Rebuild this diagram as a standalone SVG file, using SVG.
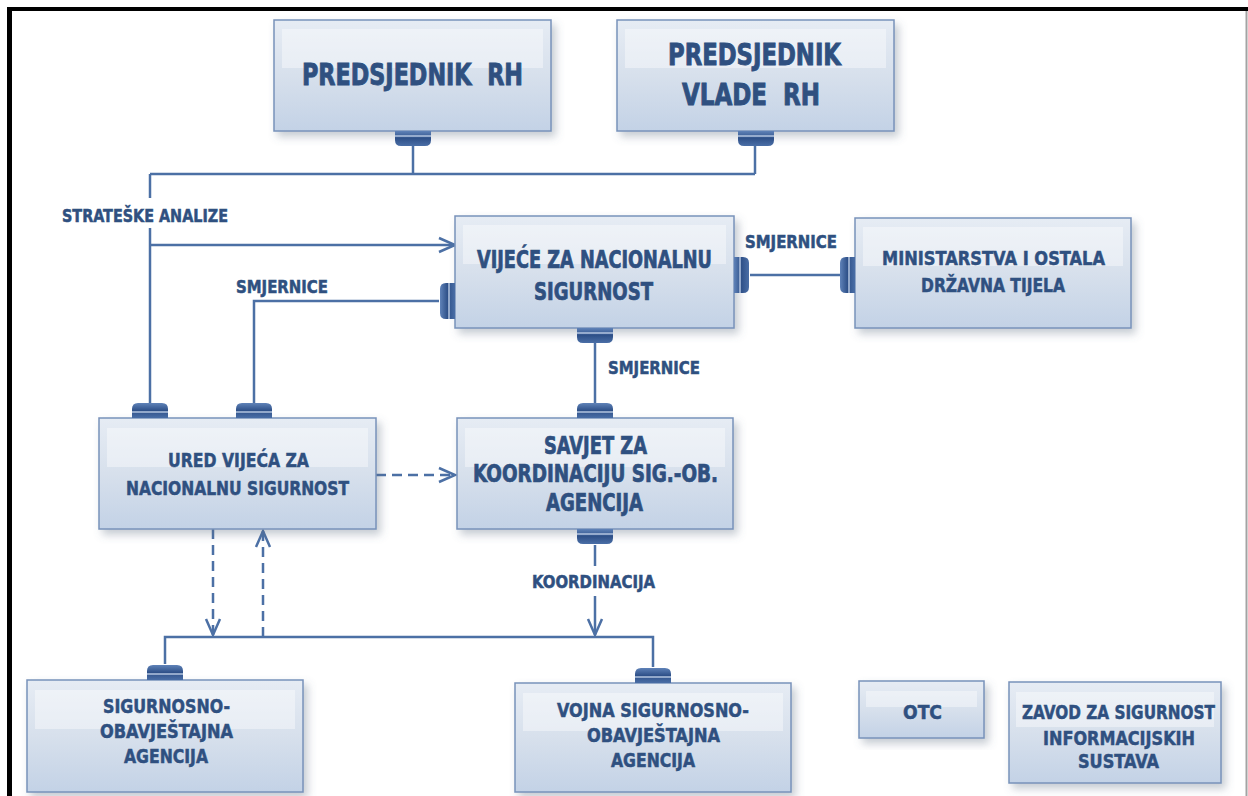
<svg xmlns="http://www.w3.org/2000/svg" width="1248" height="796" viewBox="0 0 1248 796">
<defs>
<style>
.box{fill:url(#boxGrad);stroke:#7892ba;stroke-width:1.5;filter:url(#shadow)}
.band{fill:#ffffff;opacity:0.4}
.t{font-family:"DejaVu Sans Condensed","Liberation Sans Narrow","Liberation Sans",sans-serif;font-weight:bold;fill:#2f5080;stroke:#2f5080;stroke-width:0.5}
.big{font-size:31px;stroke-width:0.9}
.mid{font-size:24px;stroke-width:0.7}
.sm{font-size:20px}
.lbl{font-size:18px}
.c{fill:none;stroke:#4c70a5;stroke-width:2.5}
.d{fill:none;stroke:#4c70a5;stroke-width:2.5;stroke-dasharray:10 6}
.tab{fill:url(#tabGradV)}
.tabs{fill:url(#tabGradH)}
.stripe{stroke:#b3c5df;stroke-width:1.5}
</style>
<linearGradient id="boxGrad" x1="0" y1="0" x2="0" y2="1">
<stop offset="0" stop-color="#e6ecf4"/>
<stop offset="0.5" stop-color="#d7e0ec"/>
<stop offset="1" stop-color="#c3d2e6"/>
</linearGradient>
<linearGradient id="tabGradV" x1="0" y1="0" x2="0" y2="1">
<stop offset="0" stop-color="#5f82b8"/>
<stop offset="0.5" stop-color="#2f5189"/>
<stop offset="1" stop-color="#4a6ea6"/>
</linearGradient>
<linearGradient id="tabGradH" x1="0" y1="0" x2="1" y2="0">
<stop offset="0" stop-color="#5f82b8"/>
<stop offset="0.5" stop-color="#2f5189"/>
<stop offset="1" stop-color="#4a6ea6"/>
</linearGradient>
<filter id="shadow" x="-10%" y="-10%" width="125%" height="130%">
<feDropShadow dx="4" dy="5" stdDeviation="4" flood-color="#5a6a80" flood-opacity="0.35"/>
</filter>
<g id="tabUp">
<path class="tab" d="M-18,0 V-9 Q-18,-15 -12,-15 H12 Q18,-15 18,-9 V0 Z"/>
<line class="stripe" x1="-18" y1="-6" x2="18" y2="-6"/>
</g>
<g id="tabDown">
<path class="tab" d="M-18,0 V9 Q-18,15 -12,15 H12 Q18,15 18,9 V0 Z"/>
<line class="stripe" x1="-18" y1="5" x2="18" y2="5"/>
</g>
<g id="tabRight">
<path class="tabs" d="M0,-18 H9 Q15,-18 15,-12 V12 Q15,18 9,18 H0 Z"/>
<line class="stripe" x1="6" y1="-18" x2="6" y2="18"/>
</g>
<g id="tabLeft">
<path class="tabs" d="M0,-18 H-9 Q-15,-18 -15,-12 V12 Q-15,18 -9,18 H0 Z"/>
<line class="stripe" x1="-6" y1="-18" x2="-6" y2="18"/>
</g>
<marker id="arr" markerUnits="userSpaceOnUse" markerWidth="20" markerHeight="16" refX="16" refY="7" orient="auto" overflow="visible">
<path d="M0,0 L16,7 L0,14" fill="none" stroke="#4c70a5" stroke-width="2.5"/>
</marker>
</defs>

<rect x="0" y="0" width="1248" height="796" fill="#ffffff"/>

<g id="frame">
<rect x="7" y="7" width="1241" height="4" fill="#000000"/>
<rect x="7" y="7" width="5" height="789" fill="#000000"/>
<line x1="1246.5" y1="11" x2="1246.5" y2="796" stroke="#a3a3a3" stroke-width="2"/>
</g>

<g id="connectors">
<path class="c" d="M413,145 V174"/>
<path class="c" d="M755,145 V174"/>
<path class="c" d="M150,174 H755"/>
<path class="c" d="M150,174 V198"/>
<path class="c" d="M150,228 V403"/>
<path class="c" d="M150,245 H455" marker-end="url(#arr)"/>
<path class="c" d="M439,301 H254 V403"/>
<path class="c" d="M750,275 H842"/>
<path class="c" d="M595,342 V404"/>
<path class="d" d="M376,475 H455" marker-end="url(#arr)"/>
<path class="d" d="M213,529 V635" marker-end="url(#arr)"/>
<path class="d" d="M263,637 V531" marker-end="url(#arr)"/>
<path class="c" d="M595,545 V566"/>
<path class="c" d="M595,596 V635" marker-end="url(#arr)"/>
<path class="c" d="M165,664 V637 H653 V667"/>
</g>

<g id="labels">
<text class="t lbl" x="62" y="222" textLength="166" lengthAdjust="spacingAndGlyphs">STRATEŠKE ANALIZE</text>
<text class="t lbl" x="236" y="293" textLength="92" lengthAdjust="spacingAndGlyphs">SMJERNICE</text>
<text class="t lbl" x="745" y="248" textLength="92" lengthAdjust="spacingAndGlyphs">SMJERNICE</text>
<text class="t lbl" x="608" y="374" textLength="92" lengthAdjust="spacingAndGlyphs">SMJERNICE</text>
<text class="t lbl" x="532" y="588" textLength="123" lengthAdjust="spacingAndGlyphs">KOORDINACIJA</text>
</g>

<g id="node-predsjednik-rh">
<rect class="box" x="274" y="20" width="277" height="111"/>
<rect class="band" x="282" y="29" width="261" height="39"/>
<use href="#tabDown" x="413" y="131"/>
<text class="t big" x="302" y="85" textLength="221" lengthAdjust="spacingAndGlyphs" xml:space="preserve">PREDSJEDNIK  RH</text>
</g>

<g id="node-predsjednik-vlade">
<rect class="box" x="617" y="20" width="277" height="111"/>
<rect class="band" x="625" y="29" width="261" height="39"/>
<use href="#tabDown" x="756" y="131"/>
<text class="t big" x="668" y="65" textLength="173" lengthAdjust="spacingAndGlyphs">PREDSJEDNIK</text>
<text class="t big" x="682" y="105" textLength="138" lengthAdjust="spacingAndGlyphs" xml:space="preserve">VLADE  RH</text>
</g>

<g id="node-vijece">
<rect class="box" x="455" y="216" width="279" height="112"/>
<rect class="band" x="463" y="225" width="263" height="39"/>
<use href="#tabLeft" x="455" y="301"/>
<use href="#tabRight" x="734" y="275"/>
<use href="#tabDown" x="595" y="328"/>
<text class="t mid" x="477" y="268" textLength="235" lengthAdjust="spacingAndGlyphs">VIJEĆE ZA NACIONALNU</text>
<text class="t mid" x="534" y="300" textLength="119" lengthAdjust="spacingAndGlyphs">SIGURNOST</text>
</g>

<g id="node-ministarstva">
<rect class="box" x="855" y="218" width="276" height="110"/>
<rect class="band" x="863" y="227" width="260" height="39"/>
<use href="#tabLeft" x="855" y="275"/>
<text class="t sm" x="882" y="265" textLength="223" lengthAdjust="spacingAndGlyphs">MINISTARSTVA I OSTALA</text>
<text class="t sm" x="921" y="292" textLength="144" lengthAdjust="spacingAndGlyphs">DRŽAVNA TIJELA</text>
</g>

<g id="node-ured">
<rect class="box" x="99" y="418" width="277" height="111"/>
<rect class="band" x="107" y="428" width="261" height="39"/>
<use href="#tabUp" x="150" y="418"/>
<use href="#tabUp" x="254" y="418"/>
<text class="t sm" x="168" y="467" textLength="141" lengthAdjust="spacingAndGlyphs">URED VIJEĆA ZA</text>
<text class="t sm" x="126" y="495" textLength="223" lengthAdjust="spacingAndGlyphs">NACIONALNU SIGURNOST</text>
</g>

<g id="node-savjet">
<rect class="box" x="457" y="418" width="276" height="111"/>
<rect class="band" x="465" y="428" width="260" height="39"/>
<use href="#tabUp" x="595" y="418"/>
<use href="#tabDown" x="595" y="529"/>
<text class="t mid" x="544" y="454" textLength="103" lengthAdjust="spacingAndGlyphs">SAVJET ZA</text>
<text class="t mid" x="473" y="482" textLength="245" lengthAdjust="spacingAndGlyphs">KOORDINACIJU SIG.-OB.</text>
<text class="t mid" x="546" y="511" textLength="97" lengthAdjust="spacingAndGlyphs">AGENCIJA</text>
</g>

<g id="node-soa">
<rect class="box" x="27" y="680" width="276" height="112"/>
<rect class="band" x="35" y="690" width="260" height="39"/>
<use href="#tabUp" x="165" y="680"/>
<text class="t sm" x="103" y="713" textLength="127" lengthAdjust="spacingAndGlyphs">SIGURNOSNO-</text>
<text class="t sm" x="100" y="738" textLength="133" lengthAdjust="spacingAndGlyphs">OBAVJEŠTAJNA</text>
<text class="t sm" x="124" y="763" textLength="84" lengthAdjust="spacingAndGlyphs">AGENCIJA</text>
</g>

<g id="node-vsoa">
<rect class="box" x="515" y="683" width="276" height="109"/>
<rect class="band" x="523" y="693" width="260" height="38"/>
<use href="#tabUp" x="653" y="683"/>
<text class="t sm" x="557" y="717" textLength="192" lengthAdjust="spacingAndGlyphs">VOJNA SIGURNOSNO-</text>
<text class="t sm" x="587" y="742" textLength="133" lengthAdjust="spacingAndGlyphs">OBAVJEŠTAJNA</text>
<text class="t sm" x="611" y="767" textLength="84" lengthAdjust="spacingAndGlyphs">AGENCIJA</text>
</g>

<g id="node-otc">
<rect class="box" x="859" y="681" width="125" height="57"/>
<rect class="band" x="866" y="691" width="111" height="16"/>
<text class="t sm" x="903" y="719" textLength="39" lengthAdjust="spacingAndGlyphs">OTC</text>
</g>

<g id="node-zsis">
<rect class="box" x="1009" y="682" width="212" height="101"/>
<rect class="band" x="1016" y="692" width="198" height="35"/>
<text class="t sm" x="1022" y="719" textLength="193" lengthAdjust="spacingAndGlyphs">ZAVOD ZA SIGURNOST</text>
<text class="t sm" x="1043" y="745" textLength="152" lengthAdjust="spacingAndGlyphs">INFORMACIJSKIH</text>
<text class="t sm" x="1078" y="768" textLength="81" lengthAdjust="spacingAndGlyphs">SUSTAVA</text>
</g>
</svg>
